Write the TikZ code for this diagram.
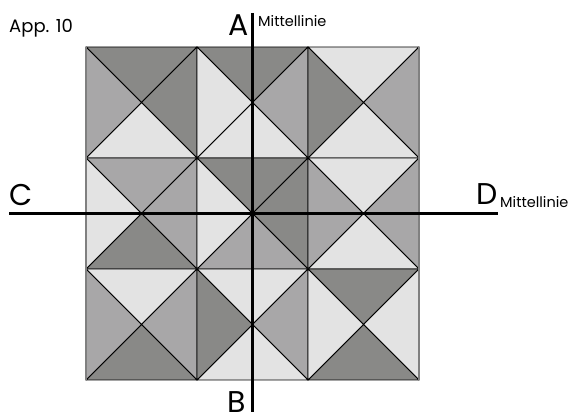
\documentclass[tikz,border=0pt]{standalone}
\usepackage{fontspec}
\setmainfont{Poppins}
\usetikzlibrary{positioning}
\definecolor{tridark}{RGB}{137,137,135}
\definecolor{trimid}{RGB}{168,167,168}
\definecolor{trilight}{RGB}{227,227,227}
\tikzstyle{tri} = [draw=black, line width=0.9pt, line join=round]
\tikzstyle{centreline} = [draw=black, line width=2.4pt]
\tikzstyle{letter} = [font=\fontsize{30}{30}\selectfont, inner sep=0pt, anchor=base west]
\tikzstyle{tag} = [font=\fontsize{14.5}{14.5}\selectfont, inner sep=0pt, anchor=base west]

\begin{document}
\begin{tikzpicture}[x=1pt,y=1pt]
    \useasboundingbox (0,0) rectangle (571,412);
    % Place tiles (column/row/top/right/bottom/left)
    \foreach \c/\r/\tt/\rr/\bb/\ll in {
        0/2/tridark/tridark/trilight/trimid,
        1/2/tridark/trimid/trilight/trilight,
        2/2/trilight/trimid/trilight/tridark,
        0/1/trimid/trimid/tridark/trilight,
        1/1/tridark/tridark/trimid/trilight,
        2/1/trilight/trimid/trilight/trimid,
        0/0/trilight/trimid/tridark/trimid,
        1/0/trilight/trimid/trilight/tridark,
        2/0/tridark/trilight/tridark/trilight}
    {
        \begin{scope}[shift={(86+111*\c,32+111*\r)}]
            \coordinate (m) at (55.5,55.5);
            \path[tri, fill=\tt] (0,111) -- (111,111) -- (m) -- cycle;
            \path[tri, fill=\rr] (111,111) -- (111,0) -- (m) -- cycle;
            \path[tri, fill=\bb] (0,0) -- (111,0) -- (m) -- cycle;
            \path[tri, fill=\ll] (0,0) -- (0,111) -- (m) -- cycle;
        \end{scope}
    }
    % Outer edges
    \draw[gray, line width=1.6pt] (86,32) -- (86,365);
    \draw[gray, line width=1.6pt] (419,32) -- (419,365);
    % Centre lines
    \coordinate (atop) at (252.5,399);
    \coordinate (abot) at (252.5,0);
    \coordinate (cleft) at (9,198.5);
    \coordinate (dright) at (498,198.5);
    \draw[centreline] (atop) -- (abot);
    \draw[centreline] (cleft) -- (dright);
    % Labels
    \node[tag, font=\fontsize{18}{18}\selectfont] (app) at (9,379) {App. 10};
    \node[letter] (A) at (228,376) {A};
    \node[tag] (mA) at (258,385) {Mittellinie};
    \node[letter] (C) at (9,206) {C};
    \node[letter] (D) at (476,207) {D};
    \node[tag] (mD) at (500,204) {Mittellinie};
    \node[letter] (B) at (227,-1) {B};
\end{tikzpicture}
\end{document}
